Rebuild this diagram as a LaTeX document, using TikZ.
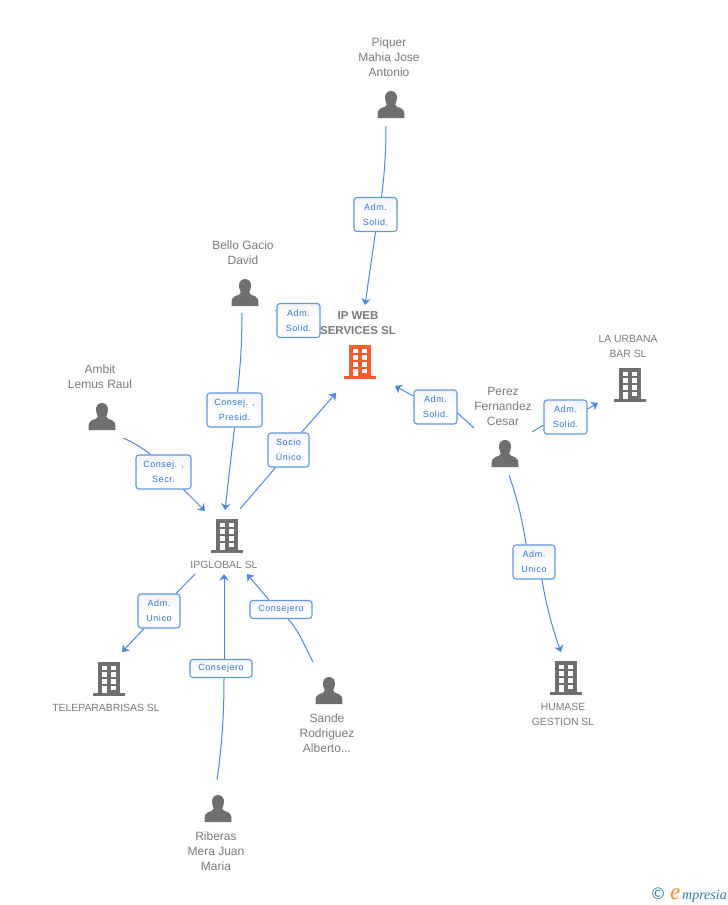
\documentclass[tikz,border=0pt]{standalone}
\usepackage{fontspec}
\setmainfont{Liberation Sans}
\usetikzlibrary{arrows.meta}
\definecolor{icongrey}{HTML}{6F6F6F}
\definecolor{textgrey}{HTML}{7A7A7A}
\definecolor{linkblue}{HTML}{4A87E3}
\definecolor{boxblue}{HTML}{5F97E6}
\definecolor{labelblue}{HTML}{2F74D8}
\definecolor{hotorange}{HTML}{FF5A2C}
\definecolor{logoteal}{HTML}{2F7C96}
\definecolor{logoorange}{HTML}{F58A1F}
\definecolor{boxtop}{HTML}{F3F5F8}
\newfontfamily\labelfont[LetterSpace=6]{Liberation Sans}
\newfontfamily\logofont{Liberation Serif}
\newfontfamily\symfont{DejaVu Sans}
\tikzset{
  x=1pt,y=-1pt,
  namelabel/.style={align=center,text=textgrey,font=\fontsize{12}{15}\selectfont,inner sep=0pt},
  smalllabel/.style={align=center,text=textgrey,font=\fontsize{10.4}{15}\selectfont,inner sep=0pt},
  mainlabel/.style={align=center,text=textgrey,font=\fontsize{11.5}{15}\bfseries\selectfont,inner sep=0pt},
  rolebox/.style={draw=boxblue,line width=1.1pt,rounded corners=3pt,top color=boxtop,bottom color=white,middle color=white,text=labelblue,
    align=center,font=\fontsize{9}{15}\labelfont\selectfont,inner sep=0pt},
  tallbox/.style={rolebox,minimum height=34pt},
  flatbox/.style={rolebox,minimum height=18pt,minimum width=62pt},
  link/.style={draw=linkblue,line width=1pt},
  arrowlink/.style={link,-{Stealth[length=6.5pt,width=9.5pt,inset=2pt]}},
  pics/building/.style={code={
    \fill[#1] (-11,-16) rectangle (11,15);
    \fill[#1] (-16,15) rectangle (16,17.6);
    \foreach \yy in {-12.3,-5.7,1} {
      \fill[white] (-7.3,\yy) rectangle (-2,\yy+4.6);
      \fill[white] (2,\yy) rectangle (7.3,\yy+4.6);
    }
    \fill[white] (2,7.7) rectangle (7.3,12.3);
    \fill[white] (-7.3,7.7) rectangle (-2,15);
  }},
  pics/person/.style={code={
    \fill[icongrey] (0,-14) .. controls (4.5,-14) and (6.4,-10) .. (6,-6.5)
      .. controls (5.8,-3.5) and (4.6,-2) .. (4.2,-0.5)
      .. controls (4.2,1.5) and (7,2.2) .. (10,3.2)
      .. controls (13,4.2) and (13.5,6.5) .. (13.5,13)
      -- (-13.5,13)
      .. controls (-13.5,6.5) and (-13,4.2) .. (-10,3.2)
      .. controls (-7,2.2) and (-4.2,1.5) .. (-4.2,-0.5)
      .. controls (-4.6,-2) and (-5.8,-3.5) .. (-6,-6.5)
      .. controls (-6.4,-10) and (-4.5,-14) .. (0,-14) -- cycle;
  }}
}
\begin{document}
\begin{tikzpicture}
\useasboundingbox (0,0) rectangle (728,905);

% icons
\pic at (391,105) {person};
\pic at (245,293) {person};
\pic at (102,417) {person};
\pic at (505,454) {person};
\pic at (329,691) {person};
\pic at (218,809) {person};
\pic at (360,361) {building=hotorange};
\pic at (227,535) {building=icongrey};
\pic at (109,678) {building=icongrey};
\pic at (566,677) {building=icongrey};
\pic at (630,384) {building=icongrey};

% text of the nodes
\node[namelabel] (piquer) at (389,57) {Piquer\\Mahia Jose\\Antonio};
\node[namelabel] (bello) at (243,252.5) {Bello Gacio\\David};
\node[namelabel] (ambit) at (100,376.5) {Ambit\\Lemus Raul};
\node[namelabel] (perez) at (503,406) {Perez\\Fernandez\\Cesar};
\node[namelabel] (sande) at (327,733) {Sande\\Rodriguez\\Alberto...};
\node[namelabel] (riberas) at (216,851) {Riberas\\Mera Juan\\Maria};
\node[mainlabel] (ipweb) at (358,323) {IP WEB\\SERVICES SL};
\node[smalllabel] (ipglobal) at (224,565) {IPGLOBAL SL};
\node[smalllabel] (telep) at (106,708) {TELEPARABRISAS SL};
\node[smalllabel] (humase) at (563,714) {HUMASE\\GESTION SL};
\node[smalllabel] (urbana) at (628,346) {LA URBANA\\BAR SL};

% free ends of connectors
\coordinate (piquerOut) at (386,126);
\coordinate (ipwebTop) at (365,305);
\coordinate (belloOut) at (242,313);
\coordinate (belloStub) at (275,310);
\coordinate (ipglobalTopA) at (225,510);
\coordinate (ambitOut) at (123,438);
\coordinate (ipglobalTopB) at (205,511);
\coordinate (ipglobalOut) at (240,509);
\coordinate (ipwebBottom) at (336,393);
\coordinate (perezOutL) at (474,428);
\coordinate (ipwebRight) at (395,386);
\coordinate (perezOutR) at (532,432);
\coordinate (urbanaIn) at (598,403);
\coordinate (perezOutB) at (509,475);
\coordinate (humaseIn) at (561,652);
\coordinate (ipglobalOutB) at (195,574);
\coordinate (telepIn) at (122,652);
\coordinate (riberasOut) at (217,780);
\coordinate (ipglobalIn) at (224,574);
\coordinate (sandeOut) at (313,662);
\coordinate (ipglobalInR) at (247,574);

% role labels
\node[tallbox,minimum width=43pt] (r1) at (375.5,214.5) {Adm.\\Solid.};
\node[tallbox,minimum width=43pt] (r2) at (298.5,320.5) {Adm.\\Solid.};
\node[tallbox,minimum width=55pt] (r3) at (234.5,410) {Consej. ,\\Presid.};
\node[tallbox,minimum width=55pt] (r4) at (163.5,472) {Consej. ,\\Secr.};
\node[tallbox,minimum width=41pt] (r5) at (288.5,450) {Socio\\Único};
\node[tallbox,minimum width=43pt] (r6) at (435.5,407) {Adm.\\Solid.};
\node[tallbox,minimum width=43pt] (r7) at (565.5,417) {Adm.\\Solid.};
\node[tallbox,minimum width=42pt] (r8) at (534,562) {Adm.\\Unico};
\node[tallbox,minimum width=42pt] (r9) at (159,611) {Adm.\\Unico};
\node[flatbox] (r10) at (281,609.5) {Consejero};
\node[flatbox] (r11) at (221,668.5) {Consejero};

% connectors
\path[link] (piquerOut) .. controls (386,155) and (384,178) .. ([xshift=6pt]r1.north);
\path[arrowlink] (r1.south) -- (ipwebTop);
\path[link] (belloStub) -- (r2.west |- belloStub);
\path[link] (belloOut) .. controls (242,345) and (240,370) .. ([xshift=3pt]r3.north);
\path[arrowlink] (r3.south) -- (ipglobalTopA);
\path[link] (ambitOut) .. controls (135,443) and (145,450) .. ([xshift=-13pt]r4.north);
\path[arrowlink] ([xshift=20pt]r4.south) -- (ipglobalTopB);
\path[link] (ipglobalOut) -- ([xshift=-13pt]r5.south);
\path[arrowlink] ([xshift=13pt]r5.north) -- (ipwebBottom);
\path[link] (perezOutL) -- ([yshift=-6pt]r6.east);
\path[arrowlink] ([yshift=11pt]r6.west) -- (ipwebRight);
\path[link] (perezOutR) -- ([yshift=-8pt]r7.west);
\path[arrowlink] ([yshift=8pt]r7.east) -- (urbanaIn);
\path[link] (perezOutB) .. controls (517,498) and (523,522) .. ([xshift=-8pt]r8.north);
\path[arrowlink] ([xshift=8pt]r8.south) .. controls (546,605) and (553,630) .. (humaseIn);
\path[link] (ipglobalOutB) -- ([xshift=17pt]r9.north);
\path[arrowlink] ([xshift=-15pt]r9.south) -- (telepIn);
\path[link] (riberasOut) .. controls (222,745) and (224,715) .. ([xshift=3pt]r11.south);
\path[arrowlink] ([xshift=3pt]r11.north) -- (ipglobalIn);
\path[link] (sandeOut) .. controls (303,642) and (297,628) .. ([xshift=7pt]r10.south);
\path[arrowlink] ([xshift=-12pt]r10.north) -- (ipglobalInR);

% logo
\node[inner sep=0pt,text=logoteal,font=\symfont\fontsize{16}{16}\selectfont] (copyr) at (658,894) {©};
\node[inner sep=0pt,anchor=base west,text=logoorange,font=\logofont\itshape\fontsize{23}{23}\selectfont] (logoe) at (670,899) {e};
\node[inner sep=0pt,anchor=base west,text=logoteal,font=\logofont\itshape\fontsize{14}{14}\selectfont] (logot) at (682,899) {mpresia};
\end{tikzpicture}
\end{document}
